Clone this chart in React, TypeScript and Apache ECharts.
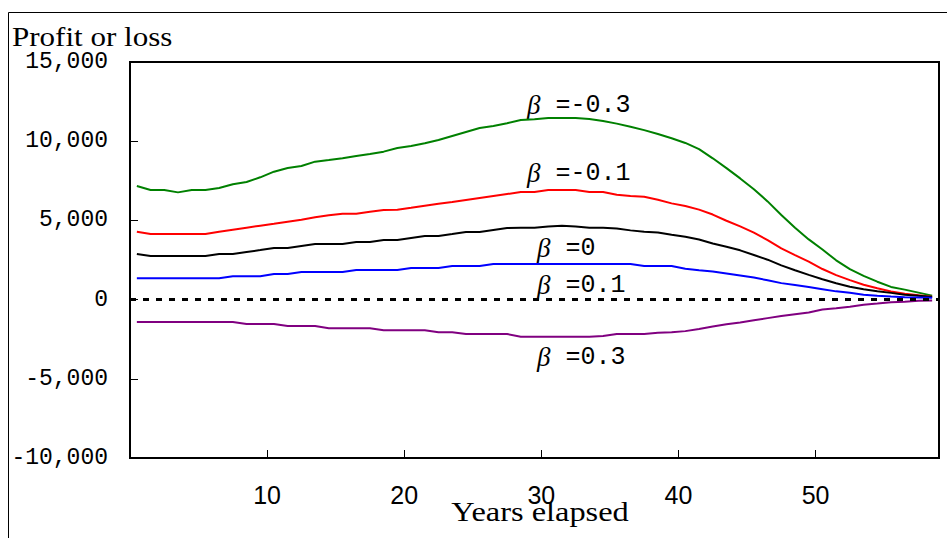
import React, { useEffect, useRef } from "react";
import * as echarts from "echarts";

const years: number[] = Array.from({ length: 59 }, (_, i) => i + 1);

const betaMinus03 = [7170, 6920, 6920, 6770, 6920, 6920, 7040, 7280, 7420, 7720, 8075, 8310, 8430, 8710, 8810, 8920, 9065, 9190, 9340, 9570, 9700, 9865, 10075, 10330, 10580, 10830, 10960, 11130, 11340, 11380, 11460, 11460, 11460, 11400, 11280, 11110, 10910, 10700, 10450, 10190, 9890, 9500, 8920, 8300, 7650, 6970, 6200, 5340, 4530, 3800, 3160, 2480, 1920, 1500, 1130, 800, 630, 440, 250];
const betaMinus01 = [4290, 4140, 4140, 4140, 4140, 4140, 4290, 4415, 4540, 4665, 4790, 4920, 5045, 5195, 5320, 5425, 5425, 5550, 5655, 5675, 5800, 5930, 6055, 6160, 6290, 6415, 6540, 6665, 6790, 6790, 6920, 6920, 6920, 6790, 6790, 6615, 6540, 6490, 6300, 6075, 5905, 5680, 5370, 4980, 4620, 4230, 3750, 3230, 2810, 2400, 1930, 1545, 1230, 940, 720, 510, 375, 270, 175];
const beta0 = [2880, 2750, 2750, 2750, 2750, 2750, 2880, 2880, 3005, 3130, 3260, 3260, 3385, 3510, 3510, 3510, 3635, 3635, 3760, 3760, 3890, 4015, 4015, 4140, 4270, 4270, 4395, 4520, 4540, 4540, 4620, 4665, 4620, 4540, 4540, 4490, 4370, 4290, 4240, 4100, 3965, 3790, 3545, 3340, 3110, 2820, 2520, 2160, 1850, 1560, 1280, 1030, 815, 650, 530, 425, 310, 240, 170];
const beta01 = [1345, 1345, 1345, 1345, 1345, 1345, 1345, 1470, 1470, 1470, 1615, 1615, 1740, 1740, 1740, 1740, 1870, 1870, 1870, 1870, 1995, 1995, 1995, 2120, 2120, 2120, 2250, 2250, 2250, 2250, 2250, 2250, 2250, 2250, 2250, 2250, 2250, 2120, 2120, 2120, 1950, 1850, 1770, 1650, 1520, 1390, 1220, 1040, 920, 800, 660, 520, 430, 310, 240, 190, 145, 140, 110];
const beta03 = [-1415, -1415, -1415, -1415, -1415, -1415, -1415, -1415, -1540, -1540, -1540, -1665, -1665, -1665, -1810, -1810, -1810, -1810, -1940, -1940, -1940, -1940, -2065, -2065, -2170, -2170, -2170, -2170, -2340, -2340, -2340, -2340, -2340, -2340, -2300, -2170, -2170, -2170, -2100, -2065, -1990, -1850, -1700, -1560, -1440, -1300, -1170, -1040, -920, -810, -620, -540, -450, -320, -250, -170, -135, -75, -60];

const seriesNames = ["β=-0.3", "β=-0.1", "β=0", "β=0.1", "β=0.3"];
const seriesColors = ["#008000", "#ff0000", "#000000", "#0000ff", "#800080"];
const seriesData = [betaMinus03, betaMinus01, beta0, beta01, beta03];
const labelTexts = ["=-0.3", "=-0.1", "=0", "=0.1", "=0.3"];

const yTicks = { min: -10000, max: 15000, interval: 5000 };
const xTicks = { min: 0, max: 59, interval: 10 };

const yTitle = "Profit or loss";
const xTitle = "Years elapsed";

const MONO = '"Liberation Mono", "DejaVu Sans Mono", monospace';
const SERIF = '"Liberation Serif", "DejaVu Serif", serif';
const NARROW = '"Liberation Sans Narrow", "Liberation Sans", sans-serif';

export default function App() {
  const ref = useRef<HTMLDivElement>(null);
  useEffect(() => {
    if (!ref.current) return;
    const chart = echarts.init(ref.current, null, { renderer: "svg" });
    const labelPos = [
      [527, 105],
      [527, 173],
      [537, 248],
      [537, 285],
      [537, 357],
    ];
    const option: any = {
      animation: false,
      grid: {
        left: 130,
        right: 8,
        top: 62,
        bottom: 80,
        show: true,
        borderColor: "#000",
        borderWidth: 2,
        backgroundColor: "transparent",
      },
      xAxis: [
        { type: "category", data: years, boundaryGap: true, show: false },
        {
          type: "value",
          min: xTicks.min,
          max: xTicks.max,
          interval: xTicks.interval,
          position: "bottom",
          axisLine: { show: true, onZero: false, lineStyle: { color: "#000", width: 2 } },
          axisTick: { show: true, inside: true, length: 8, lineStyle: { color: "#000", width: 1 } },
          axisLabel: {
            formatter: (v: number) => (v > 0 && v < xTicks.max && v % 10 === 0 ? String(v) : ""),
            fontFamily: NARROW,
            fontSize: 25,
            color: "#000",
            margin: 24,
          },
          splitLine: { show: false },
        },
      ],
      yAxis: {
        type: "value",
        min: yTicks.min,
        max: yTicks.max,
        interval: yTicks.interval,
        axisLine: { show: true, onZero: false, lineStyle: { color: "#000", width: 2 } },
        axisTick: { show: true, inside: true, length: 8, lineStyle: { color: "#000", width: 1 } },
        axisLabel: {
          formatter: (v: number) => v.toLocaleString("en-US"),
          fontFamily: MONO,
          fontSize: 23,
          color: "#000",
          margin: 22,
        },
        splitLine: { show: false },
      },
      series: seriesData.map((d, i) => ({
        name: seriesNames[i],
        type: "line",
        xAxisIndex: 0,
        yAxisIndex: 0,
        data: d,
        symbol: "none",
        silent: true,
        lineStyle: { color: seriesColors[i], width: 2 },
        itemStyle: { color: seriesColors[i] },
        markLine:
          i === seriesData.length - 1
            ? {
                silent: true,
                symbol: ["none", "none"],
                label: { show: false },
                lineStyle: { color: "#000", type: [6, 7], width: 3 },
                data: [{ yAxis: 0 }],
              }
            : undefined,
      })),
      graphic: [
        {
          type: "rect",
          shape: { x: 8.5, y: 12.5, width: 960, height: 600 },
          style: { fill: "none", stroke: "#000", lineWidth: 1 },
          silent: true,
        },
        {
          type: "text",
          x: 12,
          y: 37,
          scaleX: 1.15,
          style: { text: yTitle, font: `27px ${SERIF}`, fill: "#000", align: "left", verticalAlign: "middle" },
        },
        {
          type: "text",
          x: 540,
          y: 511,
          scaleX: 1.2,
          style: { text: xTitle, font: `27px ${SERIF}`, fill: "#000", align: "center", verticalAlign: "middle" },
        },
        ...labelTexts.map((t, i) => ({
          type: "text",
          x: labelPos[i][0],
          y: labelPos[i][1],
          style: {
            text: `{b|β} ${t}`,
            fill: "#000",
            align: "left",
            verticalAlign: "middle",
            font: `25px ${MONO}`,
            rich: {
              b: { fontStyle: "italic", fontSize: 27, fontFamily: SERIF, fill: "#000" },
            },
          },
        })),
      ],
    };
    chart.setOption(option);
    return () => chart.dispose();
  }, []);
  return (
    <div
      ref={ref}
      style={{ position: "fixed", left: 0, top: 0, width: 947, height: 538, background: "#fff" }}
    />
  );
}
